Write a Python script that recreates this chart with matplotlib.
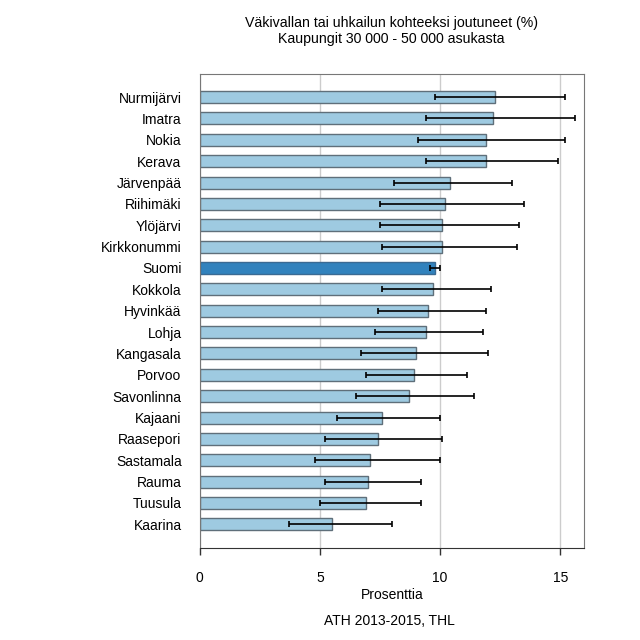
import matplotlib
matplotlib.use("Agg")
import matplotlib.pyplot as plt
import numpy as np

plt.rcParams['font.family'] = ['Liberation Sans', 'DejaVu Sans']

# Data
kunnat = ['Nurmijärvi', 'Imatra', 'Nokia', 'Kerava', 'Järvenpää', 'Riihimäki',
          'Ylöjärvi', 'Kirkkonummi', 'Suomi', 'Kokkola', 'Hyvinkää', 'Lohja',
          'Kangasala', 'Porvoo', 'Savonlinna', 'Kajaani', 'Raasepori',
          'Sastamala', 'Rauma', 'Tuusula', 'Kaarina']
prosentti = [12.3, 12.2, 11.9, 11.9, 10.4, 10.2, 10.1, 10.1, 9.8, 9.7, 9.5,
             9.4, 9.0, 8.9, 8.7, 7.6, 7.4, 7.1, 7.0, 6.9, 5.5]
ala_raja = [9.8, 9.4, 9.1, 9.4, 8.1, 7.5, 7.5, 7.6, 9.6, 7.6, 7.4, 7.3,
            6.7, 6.9, 6.5, 5.7, 5.2, 4.8, 5.2, 5.0, 3.7]
yla_raja = [15.2, 15.6, 15.2, 14.9, 13.0, 13.5, 13.3, 13.2, 10.0, 12.1, 11.9,
            11.8, 12.0, 11.1, 11.4, 10.0, 10.1, 10.0, 9.2, 9.2, 8.0]

fig = plt.figure(figsize=(6.4, 6.4), dpi=100)
ax = fig.add_axes([0.312, 0.144, 0.601, 0.741])

y = np.arange(len(kunnat))[::-1]
vals = np.array(prosentti)
err = [vals - np.array(ala_raja), np.array(yla_raja) - vals]
colors = ['#3182bd' if k == 'Suomi' else '#9ecae1' for k in kunnat]
edges = ['#3a6a93' if k == 'Suomi' else '#5f6f7a' for k in kunnat]

ax.barh(y, vals, height=0.56, color=colors, edgecolor=edges, linewidth=1, zorder=2)
ax.errorbar(vals, y, xerr=err, fmt='none', ecolor='black', elinewidth=1.2,
            capsize=2.5, capthick=1.2, zorder=3)

ax.set_xlim(0, 16)
ax.set_ylim(-1.1, len(kunnat) - 1 + 1.1)
ax.set_yticks(y)
ax.set_yticklabels(kunnat, fontsize=10)
ax.tick_params(axis='y', length=0, pad=13)
ax.set_xticks([0, 5, 10, 15])
ax.tick_params(axis='x', length=5, width=1, labelsize=10, pad=12, color='#333333')
ax.xaxis.grid(True, color='#cccccc', linewidth=1, zorder=0)
ax.set_axisbelow(True)
for s in ax.spines.values():
    s.set_color('#777777')
ax.spines['bottom'].set_color('#333333')
ax.set_xlabel('Prosenttia', fontsize=10, labelpad=2)

fig.text(0.612, 0.952, 'Väkivallan tai uhkailun kohteeksi joutuneet (%)\nKaupungit 30 000 - 50 000 asukasta',
         ha='center', va='center', fontsize=10.2, linespacing=1.15)
fig.text(0.608, 0.029, 'ATH 2013-2015, THL', ha='center', va='center', fontsize=10)

fig.savefig('out.png', dpi=100)
